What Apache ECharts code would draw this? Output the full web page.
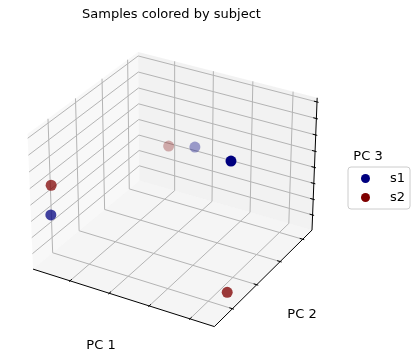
<!DOCTYPE html>
<html><head><meta charset="utf-8">
<script src="https://cdn.jsdelivr.net/npm/echarts@6/dist/echarts.min.js"></script>
<style>html,body{margin:0;padding:0;background:#fff}#c{width:419px;height:359px}</style>
</head><body><div id="c"></div>
<script>
// ---- data (PC scores per subject) ----
const subjects = ['s1', 's2'];
const pc1_s1 = [-2.64, -1.42, 1.21];
const pc2_s1 = [-1.45, 2.35, -0.51];
const pc3_s1 = [-0.37, -0.33, 1.96];
const pc1_s2 = [-2.82, -2.16, 1.18];
const pc2_s2 = [-1.16, 2.42, -0.53];
const pc3_s2 = [0.28, -0.59, -1.99];
// ---- axes ----
const xTicks = [-2, -1, 0, 1];
const yTicks = [-1, 0, 1, 2];
const zTicks = [-1.5, -1, -0.5, 0, 0.5, 1, 1.5, 2];
const xLim = [-2.96, 1.59];
const yLim = [-1.72, 2.42];
const zLim = [-1.985, 2.125];
const colors = ['#00007f', '#7f0000'];

// ---- 3D view (matplotlib-like perspective) ----
const ELEV = 30, AZIM = -60, DIST = 10, BOX = [1, 1, 0.75];
const SX0 = 174.7, SXK = 2080, SY0 = 183.7, SYK = 2058;
const er = ELEV * Math.PI / 180, ar = AZIM * Math.PI / 180;
const w = [Math.cos(er) * Math.cos(ar), Math.cos(er) * Math.sin(ar), Math.sin(er)];
const R = BOX.map(b => b / 2);
const eye = R.map((r, i) => r + DIST * w[i]);
function norm(a) { const l = Math.hypot(a[0], a[1], a[2]); return a.map(x => x / l); }
function cross(a, b) { return [a[1]*b[2]-a[2]*b[1], a[2]*b[0]-a[0]*b[2], a[0]*b[1]-a[1]*b[0]]; }
function dot(a, b) { return a[0]*b[0] + a[1]*b[1] + a[2]*b[2]; }
const u = norm(cross([0, 0, 1], w));
const v = cross(w, u);
function proj(x, y, z) {
  const P = [(x - xLim[0]) / (xLim[1] - xLim[0]) * BOX[0],
             (y - yLim[0]) / (yLim[1] - yLim[0]) * BOX[1],
             (z - zLim[0]) / (zLim[1] - zLim[0]) * BOX[2]];
  const d = [P[0] - eye[0], P[1] - eye[1], P[2] - eye[2]];
  const vz = dot(d, w);
  const sx = dot(d, u) / (-vz), sy = dot(d, v) / (-vz);
  return [SX0 + SXK * sx, SY0 - SYK * sy, -vz];
}
const [x0, x1] = xLim, [y0, y1] = yLim, [z0, z1] = zLim;

// panes
const panes = [
  { pts: [[x0,y0,z0],[x0,y1,z0],[x0,y1,z1],[x0,y0,z1]], fill: 'rgba(242,242,242,0.5)' },
  { pts: [[x0,y1,z0],[x1,y1,z0],[x1,y1,z1],[x0,y1,z1]], fill: 'rgba(230,230,230,0.5)' },
  { pts: [[x0,y0,z0],[x1,y0,z0],[x1,y1,z0],[x0,y1,z0]], fill: 'rgba(236,236,236,0.5)' }
];
// grid lines
const grids = [];
xTicks.forEach(t => grids.push([[t,y0,z0],[t,y1,z0],[t,y1,z1]]));
yTicks.forEach(t => grids.push([[x1,t,z0],[x0,t,z0],[x0,t,z1]]));
zTicks.forEach(t => grids.push([[x0,y0,t],[x0,y1,t],[x1,y1,t]]));
// axis lines + ticks
const axes = [[[x0,y0,z0],[x1,y0,z0]], [[x1,y0,z0],[x1,y1,z0]], [[x1,y1,z0],[x1,y1,z1]]];
const ticks = [];
const dx = x1 - x0, dy = y1 - y0;
xTicks.forEach(t => ticks.push([[t, y0 + 0.0167*dy, z0], [t, y0 - 0.0083*dy, z0]]));
yTicks.forEach(t => ticks.push([[x1 - 0.0167*dx, t, z0], [x1 + 0.0083*dx, t, z0]]));
zTicks.forEach(t => ticks.push([[x1 - 0.0167*dx, y1, t], [x1 + 0.0083*dx, y1, t]]));

function p2(p) { const q = proj(p[0], p[1], p[2]); return [q[0], q[1]]; }

function frameRender(params, api) {
  const c = pt => api.coord(p2(pt));
  const children = [];
  panes.forEach(p => children.push({ type: 'polygon', shape: { points: p.pts.map(c) }, style: { fill: p.fill, stroke: null } }));
  grids.forEach(g => children.push({ type: 'polyline', shape: { points: g.map(c) }, style: { stroke: '#b4b4b4', lineWidth: 1, fill: null } }));
  axes.forEach(g => children.push({ type: 'polyline', shape: { points: g.map(c) }, style: { stroke: '#000', lineWidth: 1, fill: null } }));
  ticks.forEach(g => children.push({ type: 'polyline', shape: { points: g.map(c) }, style: { stroke: '#000', lineWidth: 1, fill: null } }));
  return { type: 'group', children };
}

// depth shading normalised over all points (single scatter collection)
const proj1 = pc1_s1.map((x, i) => proj(x, pc2_s1[i], pc3_s1[i]));
const proj2 = pc1_s2.map((x, i) => proj(x, pc2_s2[i], pc3_s2[i]));
const allD = proj1.concat(proj2).map(p => p[2]);
const dMin = Math.min(...allD), dMax = Math.max(...allD);
function seriesData(pr) {
  return pr.map(p => ({ value: [p[0], p[1]], itemStyle: { opacity: 1 - 0.7 * (p[2] - dMin) / (dMax - dMin) } }))
           .sort((a, b) => a.itemStyle.opacity - b.itemStyle.opacity);
}

const chart = echarts.init(document.getElementById('c'), null, { renderer: 'canvas' });
const font = 'DejaVu Sans';
chart.setOption({
  animation: false,
  backgroundColor: '#fff',
  title: { text: 'Samples colored by subject', left: 82, top: 8, padding: 0,
           textStyle: { fontFamily: font, fontSize: 13, fontWeight: 'normal', color: '#000' } },
  grid: { left: 0, right: 0, top: 0, bottom: 0 },
  xAxis: { type: 'value', min: 0, max: 419, show: false },
  yAxis: { type: 'value', min: 0, max: 359, inverse: true, show: false },
  legend: {
    data: subjects.map((s, i) => ({ name: s, icon: 'circle', itemStyle: { color: colors[i], opacity: 1 } })),
    orient: 'vertical', left: 348, top: 167,
    itemWidth: 9, itemHeight: 9, itemGap: 4, padding: [4, 5, 4, 13],
    borderColor: '#cccccc', borderWidth: 1, borderRadius: 3, backgroundColor: 'rgba(255,255,255,0.8)',
    textStyle: { fontFamily: font, fontSize: 13, color: '#000', lineHeight: 15, padding: [0, 0, 0, 15] }
  },
  graphic: [
    { type: 'text', x: 101, y: 346, style: { text: 'PC 1', fontFamily: font, fontSize: 13, fill: '#000', align: 'center', verticalAlign: 'middle', textAlign: 'center', textVerticalAlign: 'middle' } },
    { type: 'text', x: 302, y: 315, style: { text: 'PC 2', fontFamily: font, fontSize: 13, fill: '#000', align: 'center', verticalAlign: 'middle', textAlign: 'center', textVerticalAlign: 'middle' } },
    { type: 'text', x: 368, y: 157, style: { text: 'PC 3', fontFamily: font, fontSize: 13, fill: '#000', align: 'center', verticalAlign: 'middle', textAlign: 'center', textVerticalAlign: 'middle' } }
  ],
  series: [
    { type: 'custom', name: 'frame', renderItem: frameRender, data: [0], silent: true, z: 1 },
    { type: 'scatter', name: 's1', data: seriesData(proj1), symbolSize: 11, itemStyle: { color: colors[0] }, z: 3 },
    { type: 'scatter', name: 's2', data: seriesData(proj2), symbolSize: 11, itemStyle: { color: colors[1] }, z: 3 }
  ]
});
</script></body></html>
